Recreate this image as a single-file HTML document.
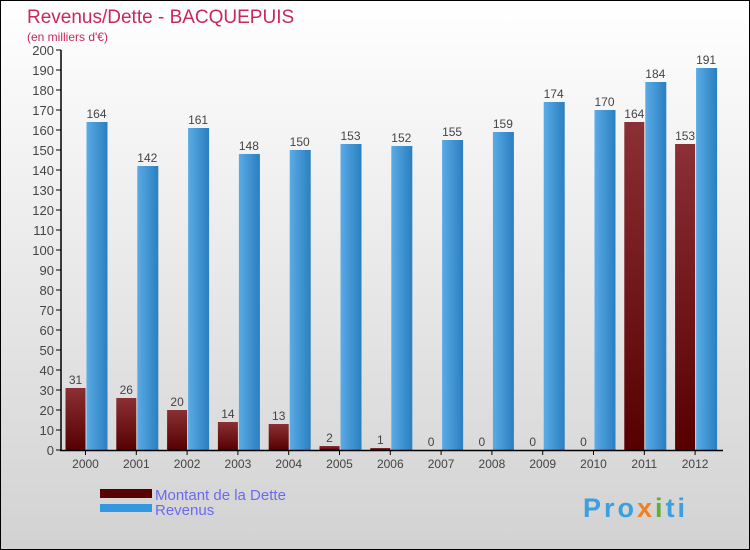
<!DOCTYPE html>
<html><head><meta charset="utf-8"><style>
body{margin:0}
#c{position:relative;width:748px;height:548px;border:1px solid #000;background:linear-gradient(#ffffff,#d2d2d2);font-family:"Liberation Sans",sans-serif;overflow:hidden}
</style></head><body>
<div id="c">
<svg id="s" width="748" height="548" xmlns="http://www.w3.org/2000/svg">
<defs>
<linearGradient id="gd" x1="0" y1="0" x2="0" y2="1"><stop offset="0" stop-color="#8b3035"/><stop offset="1" stop-color="#560000"/></linearGradient>
<linearGradient id="gr" x1="0" y1="0" x2="1" y2="0"><stop offset="0" stop-color="#5aabe6"/><stop offset="1" stop-color="#2a7fbf"/></linearGradient>
</defs>
<text x="26" y="22" font-size="19" fill="#c8285a">Revenus/Dette - BACQUEPUIS</text>
<text x="26" y="40" font-size="12" fill="#c8285a">(en milliers d'€)</text>
<g id="g"></g>
<rect x="99" y="488" width="52" height="9" fill="#5a0000"/>
<text x="154" y="499" font-size="15" fill="#6a6af0">Montant de la Dette</text>
<rect x="99" y="503" width="52" height="8" fill="#3398e0"/>
<text x="154" y="514" font-size="15" fill="#6a6af0">Revenus</text>
<text x="582" y="516" font-size="27" font-weight="bold" letter-spacing="3" fill="#3aa0e0">Pro<tspan fill="#f08020">x</tspan><tspan fill="#60b030">i</tspan>ti</text>
</svg>
</div>
<script>
const years=["2000","2001","2002","2003","2004","2005","2006","2007","2008","2009","2010","2011","2012"];
const dette=[31,26,20,14,13,2,1,0,0,0,0,164,153];
const revenus=[164,142,161,148,150,153,152,155,159,174,170,184,191];
const yTicks=[0,10,20,30,40,50,60,70,80,90,100,110,120,130,140,150,160,170,180,190,200];
const NS="http://www.w3.org/2000/svg";
const g=document.getElementById('g');
const y=v=>449-v*2;
const x=i=>84.5+i*50.8;
function mk(t,a){const e=document.createElementNS(NS,t);for(const k in a)e.setAttribute(k,a[k]);g.appendChild(e);return e;}
yTicks.forEach(v=>{
 const l=mk('line',{x1:55,x2:60,y1:y(v),y2:y(v),stroke:'#000'});
 
 
 const t=mk('text',{x:53,y:y(v)+5,'font-size':13,'text-anchor':'end',fill:'#444'});t.textContent=v;
 
 
});
years.forEach((yr,i)=>{
 const cx=x(i);
 const d=mk('rect',{x:cx-20,y:y(dette[i]),width:20,height:dette[i]*2,fill:'url(#gd)'});
 
 
 const r=mk('rect',{x:cx+1,y:y(revenus[i]),width:21,height:revenus[i]*2,fill:'url(#gr)'});
 
 
 const td=mk('text',{x:cx-10,y:y(dette[i])-4,'font-size':12,'text-anchor':'middle',fill:'#444'});td.textContent=dette[i];
 
 
 const tr=mk('text',{x:cx+11,y:y(revenus[i])-4,'font-size':12,'text-anchor':'middle',fill:'#444'});tr.textContent=revenus[i];
 
 
 const tk=mk('line',{x1:cx,x2:cx,y1:449,y2:454,stroke:'#000'});
 
 
 const tl=mk('text',{x:cx,y:467,'font-size':12,'text-anchor':'middle',fill:'#444'});tl.textContent=yr;
 
 
});
const ya=mk('line',{x1:60,x2:60,y1:49,y2:450,stroke:'#000','stroke-width':1.5});


const xa=mk('line',{x1:59,x2:722,y1:449.5,y2:449.5,stroke:'#000','stroke-width':1.5});


</script>
</body></html>
